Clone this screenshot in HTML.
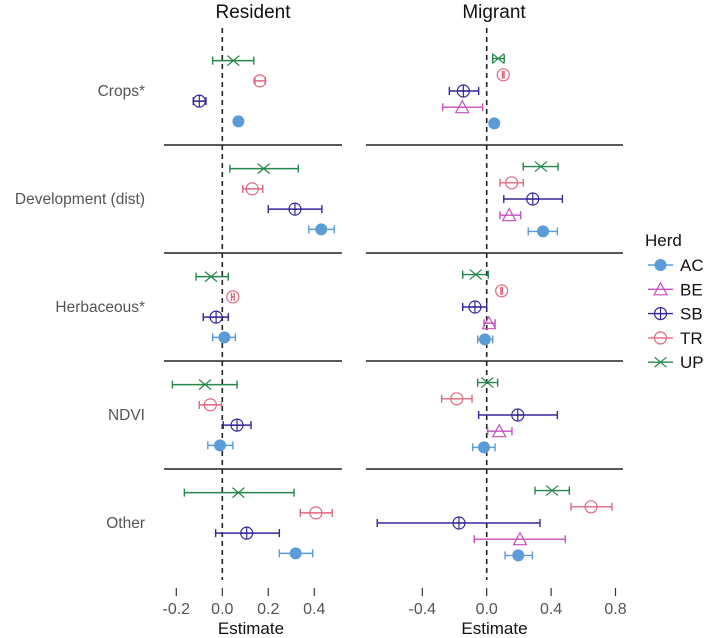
<!DOCTYPE html>
<html><head><meta charset="utf-8"><style>
body{margin:0;background:#fff;}
svg{display:block;font-family:"Liberation Sans",sans-serif;}
</style></head><body>
<svg id="chart" width="709" height="638"></svg>
<script>
const rows = ["Crops*","Development (dist)","Herbaceous*","NDVI","Other"];
const herds = ["UP","TR","SB","BE","AC"];
const colors = {AC:"#5b9bd8",BE:"#c64fbf",SB:"#33289a",TR:"#e0687e",UP:"#24884a"};
// Resident: [est, lo, hi] per row per herd (no BE)
const residentUP = [[0.048,-0.042,0.137],[0.18,0.033,0.33],[-0.049,-0.114,0.026],[-0.075,-0.217,0.064],[0.07,-0.165,0.312]];
const residentTR = [[0.163,0.142,0.186],[0.13,0.089,0.176],[0.046,0.040,0.052],[-0.052,-0.1,-0.004],[0.407,0.339,0.478]];
const residentSB = [[-0.10,-0.126,-0.071],[0.316,0.20,0.433],[-0.027,-0.083,0.026],[0.064,0.004,0.125],[0.106,-0.029,0.248]];
const residentAC = [[0.07,0.068,0.072],[0.43,0.376,0.487],[0.009,-0.042,0.057],[-0.01,-0.063,0.046],[0.319,0.248,0.393]];
const migrantUP = [[0.072,0.037,0.109],[0.337,0.227,0.443],[-0.068,-0.149,0.01],[0.004,-0.056,0.068],[0.406,0.30,0.513]];
const migrantTR = [[0.103,0.098,0.108],[0.155,0.083,0.227],[0.093,0.088,0.098],[-0.186,-0.28,-0.091],[0.648,0.524,0.778]];
const migrantSB = [[-0.145,-0.232,-0.05],[0.286,0.106,0.47],[-0.073,-0.149,0.0],[0.193,-0.05,0.439],[-0.172,-0.68,0.331]];
const migrantBE = [[-0.152,-0.273,-0.025],[0.14,0.083,0.211],[0.014,-0.017,0.052],[0.078,0.006,0.157],[0.207,-0.077,0.488]];
const migrantAC = [[0.047,0.04,0.054],[0.35,0.258,0.439],[-0.011,-0.056,0.037],[-0.017,-0.087,0.052],[0.196,0.114,0.284]];
const leftTicks = [-0.2,0.0,0.2,0.4];
const rightTicks = [-0.4,0.0,0.4,0.8];

const NS="http://www.w3.org/2000/svg";
const svg=document.getElementById("chart");
function el(t,a,p){const e=document.createElementNS(NS,t);for(const k in a)e.setAttribute(k,a[k]);(p||svg).appendChild(e);return e;}
const xL=v=>222.3+v*230, xR=v=>486.7+v*161;
const bandTop=37, bandH=108, dodgeW=81;
const rowCenter=i=>bandTop+bandH*i+bandH/2;

function marker(g,h,x,y){
  const c=colors[h];
  if(h==="AC"){el("circle",{cx:x,cy:y,r:6,fill:c},g);}
  else if(h==="BE"){el("path",{d:`M${x-6.5},${y+5.5}L${x+6.5},${y+5.5}L${x},${y-6.5}Z`,fill:"none",stroke:c,"stroke-width":1.2},g);}
  else if(h==="SB"){el("circle",{cx:x,cy:y,r:6,fill:"none",stroke:c,"stroke-width":1.2},g);el("path",{d:`M${x-6},${y}H${x+6}M${x},${y-6}V${y+6}`,stroke:c,"stroke-width":1.2},g);}
  else if(h==="TR"){el("circle",{cx:x,cy:y,r:6,fill:"none",stroke:c,"stroke-width":1.2},g);}
  else {el("path",{d:`M${x-6},${y-5}L${x+6},${y+5}M${x-6},${y+5}L${x+6},${y-5}`,stroke:c,"stroke-width":1.2},g);}
}

function panel(name,x0,x1,sx,ticks,series,title,tx){
  const g=el("g",{});
  
  
  const t=el("text",{x:tx,y:18,"text-anchor":"middle","font-size":19,fill:"#111"},g);t.textContent=title;
  
  
  for(let i=1;i<rows.length;i++){const y=bandTop+bandH*i;const l=el("line",{x1:x0,x2:x1,y1:y,y2:y,stroke:"#222","stroke-width":1.4},g);
    
    }
  const z=el("line",{x1:sx(0),x2:sx(0),y1:28,y2:580,stroke:"#222","stroke-width":1.6,"stroke-dasharray":"5,4"},g);
  
  
  const hs=Object.keys(series);
  rows.forEach((r,i)=>{
    const n=hs.length;
    hs.forEach((h,j)=>{
      const d=series[h][i];
      const y=rowCenter(i)+(j-(n-1)/2)*dodgeW/n;
      const gg=el("g",{},g);
      
      
      const a=sx(d[1]),b=sx(d[2]);
      el("path",{d:`M${a},${y}H${b}M${a},${y-4}V${y+4}M${b},${y-4}V${y+4}`,stroke:colors[h],"stroke-width":1.4,fill:"none"},gg);
      marker(gg,h,sx(d[0]),y);
    });
  });
  ticks.forEach(v=>{
    const x=sx(v);
    const tk=el("line",{x1:x,x2:x,y1:588,y2:596,stroke:"#333","stroke-width":1.2},g);
    
    
    const tl=el("text",{x:x,y:614,"text-anchor":"middle","font-size":16,fill:"#555"},g);
    tl.textContent=v.toFixed(1);
    
    
  });
  const xt=el("text",{x:(x0+x1)/2+ (name==="resident"?-2:0),y:634,"text-anchor":"middle","font-size":17,fill:"#111"},g);
  xt.textContent="Estimate";
  
  
}
panel("resident",164,342,xL,leftTicks,{UP:residentUP,TR:residentTR,SB:residentSB,AC:residentAC},"Resident",253);
panel("migrant",366,623,xR,rightTicks,{UP:migrantUP,TR:migrantTR,SB:migrantSB,BE:migrantBE,AC:migrantAC},"Migrant",494);

rows.forEach((r,i)=>{
  const t=el("text",{x:145,y:rowCenter(i)+5,"text-anchor":"end","font-size":15.5,fill:"#555"});
  t.textContent=r;
  
  
});

const lg=el("g",{});


const lt=el("text",{x:645,y:246,"font-size":17,fill:"#111"},lg);lt.textContent="Herd";
["AC","BE","SB","TR","UP"].forEach((h,i)=>{
  const y=265+i*24.3;
  const e=el("g",{},lg);
  
  
  el("line",{x1:648,x2:673,y1:y,y2:y,stroke:colors[h],"stroke-width":1.4},e);
  marker(e,h,660.5,y);
  const t=el("text",{x:680,y:y+6,"font-size":17,fill:"#111"},e);t.textContent=h;
});
</script>
</body></html>
